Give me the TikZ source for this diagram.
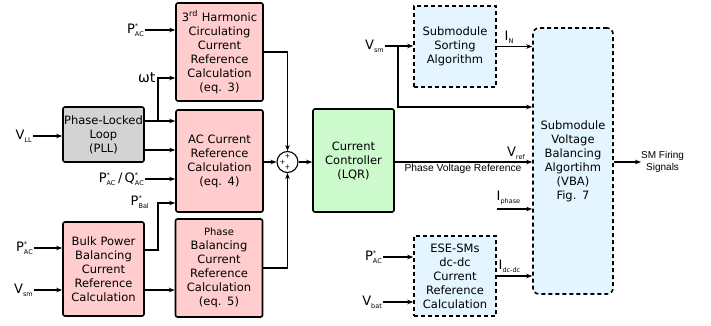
\documentclass[tikz,border=0pt]{standalone}
\usepackage{amsmath}
\usepackage{fontspec}
\setmainfont{DejaVu Sans}
\newfontfamily\notefont{Liberation Sans}
\usepackage{tikz}
\usetikzlibrary{arrows.meta}
\definecolor{pinkfill}{RGB}{255,205,205}
\definecolor{greyfill}{RGB}{211,211,211}
\definecolor{greenfill}{RGB}{205,250,205}
\definecolor{bluefill}{RGB}{228,245,255}
\newcommand{\insig}[3]{#1$^{\mbox{\fontsize{6.5}{6.5}\selectfont #2}}_{\mbox{\fontsize{6.5}{6.5}\selectfont #3}}$}

\begin{document}
\begin{tikzpicture}[x=1pt,y=-1pt]
\tikzstyle{Block}=[draw, line width=1.6pt, rounded corners=2pt, align=center, inner sep=0pt, font=\fontsize{11.5}{14}\selectfont];
\tikzstyle{Calc}=[Block, fill=pinkfill, minimum width=87pt, text width=85pt];
\tikzstyle{Algo}=[Block, dash pattern=on 4pt off 3pt, fill=bluefill, rounded corners=0pt];
\tikzstyle{seq}=[-{Stealth[length=6pt,width=4.5pt]}, line width=1.1pt];
\tikzstyle{lab}=[inner sep=0.5pt, font=\fontsize{13}{13}\selectfont];
\useasboundingbox (0,0) rectangle (711,326);
% reference calculations
\node [Calc, minimum height=98pt] (v1) at (219.5,52) {3\textsuperscript{rd} Harmonic\\Circulating\\Current\\Reference\\Calculation\\(eq. 3)};
\node [Calc, minimum height=102pt] (v2) at (219.5,161) {AC Current\\Reference\\Calculation\\(eq. 4)};
\node [Calc, minimum height=98pt] (v3) at (219,268) {{\fontsize{10}{14}\selectfont Phase}\\Balancing\\Current\\Reference\\Calculation\\(eq. 5)};
\node [Block, fill=greyfill, minimum width=81pt, text width=80pt, minimum height=55pt] (v4) at (103.5,134.5) {Phase-Locked\\Loop\\(PLL)};
\node [Block, fill=pinkfill, minimum width=81pt, text width=79pt, minimum height=94pt] (v5) at (103.5,269) {Bulk Power\\Balancing\\Current\\Reference\\Calculation};
% controller and sum
\node [Block, fill=greenfill, minimum width=81pt, text width=79pt, minimum height=103pt] (v6) at (353.5,160.5) {Current\\Controller\\(LQR)};
\node [circle, draw, line width=1.1pt, minimum size=21pt, inner sep=0pt] (v7) at (287.5,162) {};
\node [inner sep=0pt, font=\fontsize{7}{7}\selectfont] (p1) at (287.5,156) {+};
\node [inner sep=0pt, font=\fontsize{7}{7}\selectfont] (p2) at (282.5,162) {+};
\node [inner sep=0pt, font=\fontsize{7}{7}\selectfont] (p3) at (287.5,167) {+};
% submodule algorithms
\node [Algo, minimum width=82pt, text width=80pt, minimum height=81pt] (v8) at (455,46.5) {Submodule\\Sorting\\Algorithm};
\node [Algo, minimum width=82pt, text width=80pt, minimum height=80pt] (v9) at (455,276) {ESE-SMs\\dc-dc\\Current\\Reference\\Calculation};
\node [Algo, rounded corners=6pt, minimum width=80pt, text width=78pt, minimum height=266pt] (v10) at (573,161) {Submodule\\Voltage\\Balancing\\Algortihm\\(VBA)\\Fig. 7};
\node [anchor=west, align=center, inner sep=0pt, font=\notefont\fontsize{10}{12.5}\selectfont] (v11) at (641,162) {SM Firing\\Signals};
% inputs on the left
\node [lab, anchor=east] (s1) at (145,30) {\insig{P}{*}{AC}};
\node [lab, anchor=east, font=\fontsize{14}{14}\selectfont] (s2) at (156,78) {ωt};
\node [lab, anchor=east] (s3) at (33,136) {\insig{V}{}{LL}};
\node [lab, anchor=east] (s4) at (145,179) {\insig{P}{*}{AC}\,/\,\insig{Q}{*}{AC}};
\node [lab, anchor=east] (s5) at (150,202) {\insig{P}{*}{Bal}};
\node [lab, anchor=east] (s6) at (34,248) {\insig{P}{*}{AC}};
\node [lab, anchor=east] (s7) at (34,290) {\insig{V}{}{sm}};
\coordinate (c1) at (158,121);
\coordinate (c2) at (158,150);
\coordinate (c3) at (158,250);
\coordinate (c4) at (158,203);
\draw [seq] (s1) -- (s1 -| v1.west);
\draw [seq] (s3) -- (s3 -| v4.west);
\draw [seq] (c1 -| v4.east) -- (c1 -| v2.west);
\draw [seq] (c1) |- (s2 -| v1.west);
\draw [seq] (c2 -| v4.east) -- (c2 -| v2.west);
\draw [seq] (s4) -- (s4 -| v2.west);
\draw [seq] (c3 -| v5.east) -- (c3) -- (c4) -- (c4 -| v2.west);
\draw [seq] (s6) -- (s6 -| v5.west);
\draw [seq] (s7) -- (s7 -| v5.west);
\draw [seq] (s7 -| v5.east) -- (s7 -| v3.west);
% into the sum and controller
\draw [seq] (v1.east) -| (v7.north);
\draw [seq] (v7 -| v2.east) -- (v7.west);
\draw [seq] (v3.east) -| (v7.south);
\draw [seq] (v7.east) -- (v7 -| v6.west);
\draw [seq] (v7 -| v6.east) -- (v7 -| v10.west);
\node [lab, anchor=south east] (s10) at (526,160) {\insig{V}{}{ref}};
\node [anchor=north, inner sep=0pt, font=\notefont\fontsize{10.3}{12}\selectfont] (s11) at (463,163.5) {Phase Voltage Reference};
% inputs on the right
\node [lab, anchor=east] (s8) at (385,46) {\insig{V}{}{sm}};
\coordinate (c5) at (398,107);
\draw [seq] (s8) -- (s8 -| v8.west);
\draw [seq] (c5 |- s8) -- (c5) -- (c5 -| v10.west);
\draw [seq] (v8) -- (v8 -| v10.west);
\node [lab, anchor=south west] (s9) at (504,44) {\insig{I}{}{N}};
\coordinate (c6) at (497,209);
\draw [seq] (c6) -- (c6 -| v10.west);
\node [lab, anchor=south west] (s12) at (496,206) {\insig{I}{}{phase}};
\node [lab, anchor=east] (s13) at (383,257) {\insig{P}{*}{AC}};
\node [lab, anchor=east] (s14) at (383,302) {\insig{V}{}{bat}};
\draw [seq] (s13) -- (s13 -| v9.west);
\draw [seq] (s14) -- (s14 -| v9.west);
\draw [seq] (v9.east) -- (v9.east -| v10.west);
\node [lab, anchor=south west] (s15) at (498,273) {\insig{I}{}{dc-dc}};
\draw [seq] (v10.east |- v7) -- (v11.west);
\end{tikzpicture}
\end{document}
